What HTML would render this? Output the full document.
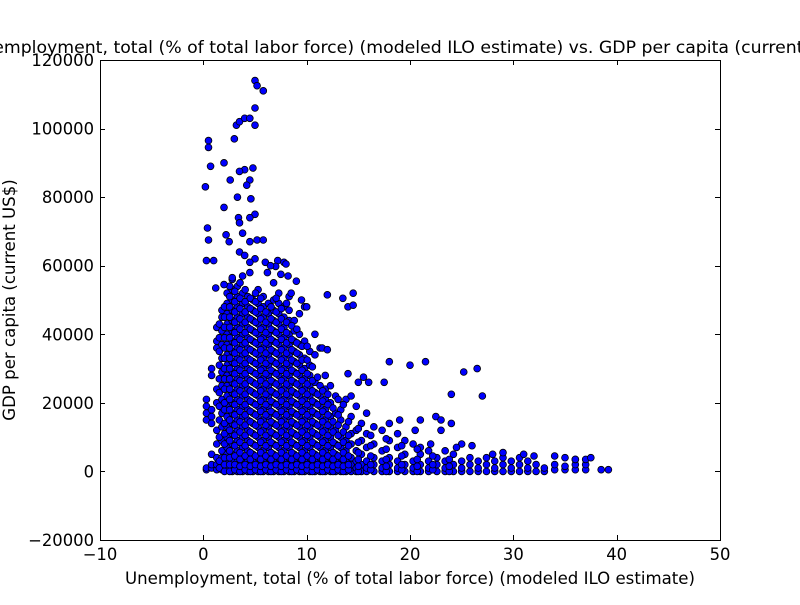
<!DOCTYPE html>
<html><head><meta charset="utf-8"><style>
body{margin:0;background:#fff;}
svg text{font-family:"DejaVu Sans","Liberation Sans",sans-serif;fill:#000;}
</style></head><body>
<svg id="chart" width="800" height="600" viewBox="0 0 800 600" xmlns="http://www.w3.org/2000/svg">
<rect width="800" height="600" fill="#fff"/>
<text x="410" y="53" font-size="17.3" text-anchor="middle">Unemployment, total (% of total labor force) (modeled ILO estimate) vs. GDP per capita (current US$)</text>
<g id="points"></g>
<rect x="100.5" y="60.5" width="620" height="480" fill="none" stroke="#000" stroke-width="1"/>
<g id="axes"></g>
<text x="410" y="584" font-size="16.6" text-anchor="middle">Unemployment, total (% of total labor force) (modeled ILO estimate)</text>
<text transform="translate(15,300) rotate(-90)" font-size="16.6" text-anchor="middle">GDP per capita (current US$)</text>
</svg>
<script>
const xTicks=[-10,0,10,20,30,40,50];
const yTicks=[-20000,0,20000,40000,60000,80000,100000,120000];
// unemployment (%) groups with GDP per capita values (thousands US$)
const groupUnemployment=[0.3,0.8,1.3,1.8,2.3,2.8,3.3,3.8,4.3,4.8,5.3,5.8,6.3,6.8,7.3,7.8,8.3,8.8,9.3,9.8,10.3,10.8,11.3,11.8,12.3,12.8,13.3,13.8,14.3,14.8,15.3,15.8,16.5,17.3,18,18.8,19.5,20.3,21,21.8,22.6,23.4,24.2,25,25.8,26.6,27.4,28.2,29,29.8,30.6,31.4,32.2,33,34,35,36,37];
const groupGdp=[
[0.5,1,15,17,19,21],[1,2,5,14,16,18,28,30],[0.5,2,4,8,12,20,24,36,38,42],
[0.5,2,4,6,9,13,17,21,25,29,33,37,41,45,47],
[0.5,1.5,3,5,7,10,13,16,19,22,25,28,31,34,37,40,43,46,49,52],
[0,1,3,5,8,11,14,17,20,23,26,29,32,35,38,41,44,47,50,53,56],
[0,1.5,3,6,9,12,15,18,21,24,27,30,33,36,39,42,45,48,51,54],
[0,1,2.5,4.5,7,10,13,16,19,22,25,28,31,34,37,40,43,46,49,52],
[0,1.5,3.5,6,9,12,15,18,21,24,27,30,33,36,39,42,45,48,51],
[0,1,3,5,8,11,14,17,20,23,26,29,32,35,38,41,44,47,50],
[0,2,4,7,10,13,16,19,22,25,28,31,34,37,40,43,46,49,53],
[0,1,3,6,9,12,15,18,21,24,27,30,33,36,39,42,45,48,51],
[0,2,4,7,10,13,16,19,22,25,28,31,34,37,40,43,46,49],
[0,1,3,5,8,11,14,17,20,23,26,29,32,35,38,41,44,47,50],
[0,2,4,7,10,13,16,19,22,25,28,31,34,37,40,43,46,49,52],
[0,1,3,6,9,12,15,18,21,24,27,30,33,36,39,42,45,48],
[0,2,4,7,10,13,16,19,22,25,28,31,34,37,40,44,47,51],
[0,1,3,5,8,11,14,17,20,23,26,29,32,35,38,41,44],
[0,2,4,7,10,13,16,19,22,25,28,31,34,37,40,46],
[0,1,3,6,9,12,15,18,21,24,27,30,33,38,48],
[0,2,4,7,10,13,16,19,22,25,28,31,35],
[0,1,3,5,8,11,14,17,20,23,26,34,40],
[0,2,4,7,10,13,16,19,22,25,36],
[0,1,3,6,9,12,15,18,21,24,28],
[0,2,4,7,10,13,16,20,25],[0,1,3,5,8,12,17,22],[0,2,4,7,10,15,18],[0,1,3,6,9,13,21],
[0,2,4,8,11,16,22],[0,1,3,6,12,19],[0,2,5,9,14],[0,1,3,7,11,17],[0,2,4,8,13],[0,1,3,6,12],
[0,2,4,9,14],[0,1,3,7,11],[0,2,5,9],[0,1,3,8],[0,2,5,7],[0,1,3,6],[0,2,4],[0,1,3,6],[0,2,5],
[0,1,3],[0,2,4],[0,1,3],[0,2,4],[0,1,3],[0,2,4],[0,1,3],[0,2,4],[0,1,3],[0,2],[0,1],[0.5,2],[0.5,1.5],[0.5,2,3.5],[0.5,2,3.5]];
// second interleaved set of observations in the dense core
const coreUnemployment=[1.55,2.05,2.55,3.05,3.55,4.05,4.55,5.05,5.55,6.05,6.55,7.05,7.55,8.05,8.55,9.05,9.55,10.05,10.55,11.05,11.55,12.05,12.55,13.05,13.55,14.05,15.0,16.2,17.7,19.2,20.7,22.2,23.8];
const coreGdp=[
[1,3,10,15,19,23,27,31,35,39,43],
[0,2,4,8,11,14,18,20,24,27,30,33,36,39,42,45,48],
[0,2,4,6,9,12,15,18,21,24,27,30,33,36,39,42,45,48,51,54],
[0.5,2,4.5,7.5,10.5,13.5,16.5,19.5,22.5,25.5,28.5,31.5,34.5,37.5,40.5,43.5,46.5,49.5,52.5],
[0,1.5,3.5,5.5,8.5,11.5,14.5,17.5,20.5,23.5,26.5,29.5,32.5,35.5,38.5,41.5,44.5,47.5,50.5,55],
[0.5,2,4.5,7.5,10.5,13.5,16.5,19.5,22.5,25.5,28.5,31.5,34.5,37.5,40.5,43.5,46.5,49.5,53],
[0,1.5,3.5,5.5,8.5,11.5,14.5,17.5,20.5,23.5,26.5,29.5,32.5,35.5,38.5,41.5,44.5,47.5,50.5],
[0.5,2,4.5,7.5,10.5,13.5,16.5,19.5,22.5,25.5,28.5,31.5,34.5,37.5,40.5,43.5,46.5,49.5,52],
[0,1.5,3.5,5.5,8.5,11.5,14.5,17.5,20.5,23.5,26.5,29.5,32.5,35.5,38.5,41.5,44.5,47.5,50.5],
[0.5,2,4.5,7.5,10.5,13.5,16.5,19.5,22.5,25.5,28.5,31.5,34.5,37.5,40.5,43.5,46.5],
[0,1.5,3.5,5.5,8.5,11.5,14.5,17.5,20.5,23.5,26.5,29.5,32.5,35.5,38.5,41.5,44.5,48],
[0.5,2,4.5,7.5,10.5,13.5,16.5,19.5,22.5,25.5,28.5,31.5,34.5,37.5,40.5,43.5,46.5,50.5],
[0,1.5,3.5,5.5,8.5,11.5,14.5,17.5,20.5,23.5,26.5,29.5,32.5,35.5,38.5,41.5,44.5,47.5],
[0.5,2,4.5,7.5,10.5,13.5,16.5,19.5,22.5,25.5,28.5,31.5,34.5,37.5,40.5,43.5,49],
[0,1.5,3.5,5.5,8.5,11.5,14.5,17.5,20.5,23.5,26.5,29.5,32.5,35.5,38.5,42.5],
[0.5,2,4.5,7.5,10.5,13.5,16.5,19.5,22.5,25.5,28.5,31.5,34.5,37.5,41.5],
[0,1.5,3.5,5.5,8.5,11.5,14.5,17.5,20.5,23.5,26.5,29.5,32.5,36.5],
[0.5,2,4.5,7.5,10.5,13.5,16.5,19.5,22.5,25.5,28.5,32.5,36.5],
[0,1.5,3.5,5.5,8.5,11.5,14.5,17.5,20.5,23.5,26.5,30.5],
[0.5,2,4.5,7.5,10.5,13.5,16.5,19.5,22.5,27.5],
[0,1.5,3.5,5.5,8.5,11.5,14.5,17.5,20.5,23.5],
[0.5,2,4.5,7.5,10.5,13.5,16.5,19.5,22.5],
[0,1.5,3.5,5.5,8.5,11.5,14.5,18.5],
[0.5,2,4.5,7.5,10.5,13.5,16.5,21],
[0,1.5,3.5,5.5,8.5,11.5,19.5],
[0.5,2,4.5,7.5,10.5,14.5],
[0,1.5,3.5,5.5,8.5,12.5],
[0.5,2,4.5,7.5,10.5],
[0,1.5,3.5,6.5,9.5],
[0.5,2,4.5,7.5],
[0,1.5,3.5,6.5],
[0.5,2,4.5],
[0,1.5,3.5]];
// individual outlier observations: [unemployment %, GDP per capita thousands US$]
const outliers=[[5,114],[5.2,112.5],[5.8,111],[5,106],[5,101],[3.2,101],[3.5,102],[4,103],[4.5,103],[3,97],[0.5,96.5],[0.5,94.5],[0.7,89],[2,90],[4.8,88.5],[4,88],[3.5,87.5],[2.6,85],[4.5,85],[4.2,83.5],[0.2,83],[3.3,80],[4.6,79.5],[2,77],[3.4,74],[5,75],[4.5,74],[3.5,72.5],[0.4,71],[2.2,69],[3.8,69.5],[2.5,67],[0.5,67.5],[4.5,67],[5.2,67.5],[5.8,67.5],[3.5,64],[4,63],[5,62],[4.5,61],[0.3,61.5],[1,61.5],[6,61],[7.2,61.5],[7.8,61],[8,60.5],[7,59.8],[6.5,60],[7.5,57.5],[8.2,57],[6.2,58],[6.8,55],[4.5,58],[3.8,57],[2.8,56.5],[2,54.5],[1.2,53.5],[9,55.5],[9.5,50],[8.5,52],[12,51.5],[13.5,50.5],[14.5,52],[14,48],[14.5,48.5],[10,48],[11.5,36],[12,35.5],[15,26],[16,26],[17.5,26],[18,32],[20,31],[21.5,32],[24,22.5],[25.2,29],[26.5,30],[27,22],[14,28.5],[15.5,27.5],[22.5,16],[23,15],[20.5,12],[19,15],[21,15],[22,8],[23,12],[24,14],[25,8],[26,7.5],[24.5,7],[28,5],[29,5.5],[31,5],[32,4.5],[34,4.5],[35,4],[36,3.5],[37.5,4],[38.5,0.5],[39.2,0.5]];

const X0=100,X1=720,Y0=540,Y1=60;
const xMin=-10,xMax=50,yMin=-20000,yMax=120000;
function sx(v){return X0+(v-xMin)/(xMax-xMin)*(X1-X0);}
function sy(v){return Y0-(v-yMin)/(yMax-yMin)*(Y0-Y1);}
const NS="http://www.w3.org/2000/svg";
const pg=document.getElementById('points');
function addPoint(u,g){
  const c=document.createElementNS(NS,'circle');
  c.setAttribute('cx',sx(u));c.setAttribute('cy',sy(g*1000));c.setAttribute('r',3.4);
  c.setAttribute('fill','#0000ff');c.setAttribute('stroke','#000');c.setAttribute('stroke-width','0.8');
  
  
  pg.appendChild(c);
}
groupUnemployment.forEach((u,i)=>groupGdp[i].forEach(g=>addPoint(u,g)));
coreUnemployment.forEach((u,i)=>coreGdp[i].forEach(g=>addPoint(u,g)));
outliers.forEach(p=>addPoint(p[0],p[1]));

const ax=document.getElementById('axes');
function line(x1,y1,x2,y2){const l=document.createElementNS(NS,'line');l.setAttribute('x1',x1);l.setAttribute('y1',y1);l.setAttribute('x2',x2);l.setAttribute('y2',y2);l.setAttribute('stroke','#000');ax.appendChild(l);return l;}
function txt(x,y,s,anchor){const t=document.createElementNS(NS,'text');t.setAttribute('x',x);t.setAttribute('y',y);t.setAttribute('font-size','16.4');t.setAttribute('text-anchor',anchor);t.textContent=s;ax.appendChild(t);return t;}
xTicks.forEach(v=>{
  const x=Math.round(sx(v))+0.5;
  line(x,Y0,x,Y0-5);line(x,Y1,x,Y1+5);
  const t=txt(sx(v),Y0+20,v<0?'\u2212'+Math.abs(v):String(v),'middle');
  
  
});
yTicks.forEach(v=>{
  const y=Math.round(sy(v))+0.5;
  line(X0,y,X0+5,y);line(X1,y,X1-5,y);
  const t=txt(X0-6,sy(v)+6,v<0?'\u2212'+Math.abs(v):String(v),'end');
  
  
});
</script>
</body></html>
